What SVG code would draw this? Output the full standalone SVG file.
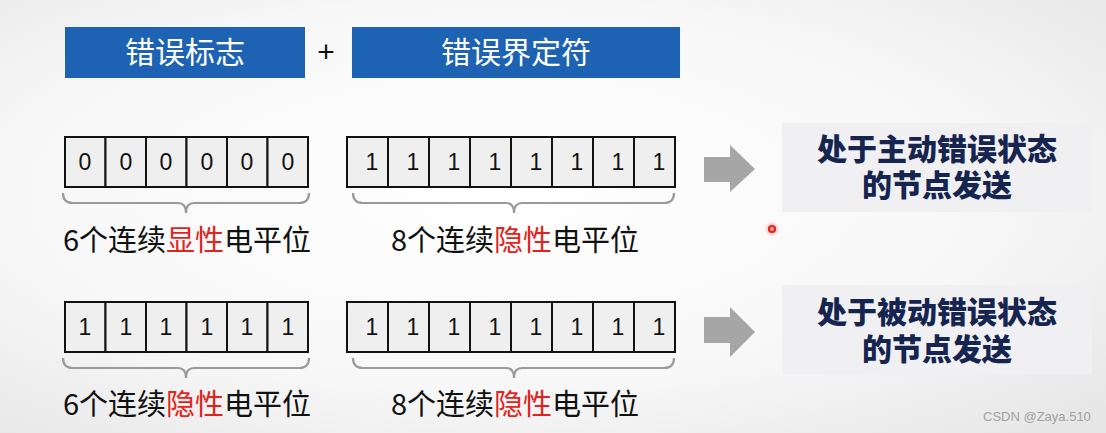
<svg xmlns="http://www.w3.org/2000/svg" width="1106" height="433" viewBox="0 0 1106 433">
<defs>
<radialGradient id="bg" cx="0.45" cy="0.45" r="0.75">
<stop offset="0" stop-color="#ffffff"/>
<stop offset="0.6" stop-color="#f7f7f7"/>
<stop offset="1" stop-color="#e6e6e6"/>
</radialGradient>
<radialGradient id="glow" cx="0.5" cy="0.5" r="0.5">
<stop offset="0" stop-color="#ff8080" stop-opacity="0.8"/>
<stop offset="1" stop-color="#ff8080" stop-opacity="0"/>
</radialGradient>
</defs>
<style>
.hdr{fill:#1e63b3}
.hdrt{font-family:"Noto Sans CJK SC",sans-serif;font-size:30px;fill:#ffffff;text-anchor:middle}
.cell{fill:#efefef;stroke:#111;stroke-width:2}
.dig{font-family:"Liberation Sans",Arial,sans-serif;font-size:23px;fill:#111;text-anchor:middle}
.brace{fill:none;stroke:#9a9a9a;stroke-width:2.2}
.lbl{font-family:"Noto Sans CJK SC",sans-serif;font-size:29px;fill:#111;text-anchor:middle}
.red{fill:#e2231a}
.arrow{fill:#a6a6a6}
.nbox{fill:#f0f0f2}
.ntxt{font-family:"Noto Sans CJK SC",sans-serif;font-size:30px;font-weight:900;fill:#15254f;text-anchor:middle}
.wm{font-family:"Liberation Sans",Arial,sans-serif;font-size:13px;fill:#a0a0a0}
</style>
<rect width="1106" height="433" fill="url(#bg)"/>

<g id="header-flag">
<rect class="hdr" x="65" y="27" width="240" height="51"/>
<text class="hdrt" x="185" y="63">错误标志</text>
</g>
<g id="plus">
<text x="326" y="62" font-family="Liberation Sans, Arial, sans-serif" font-size="30" fill="#111" text-anchor="middle">+</text>
</g>
<g id="header-delim">
<rect class="hdr" x="352" y="27" width="328" height="51"/>
<text class="hdrt" x="516" y="63">错误界定符</text>
</g>

<g id="row1-flag">
<rect class="cell" x="65" y="137" width="40.5" height="50"/>
<rect class="cell" x="105.5" y="137" width="40.5" height="50"/>
<rect class="cell" x="146" y="137" width="40.5" height="50"/>
<rect class="cell" x="186.5" y="137" width="40.5" height="50"/>
<rect class="cell" x="227" y="137" width="40.5" height="50"/>
<rect class="cell" x="267.5" y="137" width="40.5" height="50"/>
<text class="dig" x="85" y="170">0</text>
<text class="dig" x="126" y="170">0</text>
<text class="dig" x="166" y="170">0</text>
<text class="dig" x="207" y="170">0</text>
<text class="dig" x="247" y="170">0</text>
<text class="dig" x="288" y="170">0</text>
<path class="brace" d="M63,193 Q63,203 73,203 H178 Q186,203 186,213 Q186,203 194,203 H299 Q309,203 309,193"/>
<text class="lbl" x="187" y="251">6个连续<tspan class="red">显性</tspan>电平位</text>
</g>

<g id="row1-delim">
<rect class="cell" x="347" y="137" width="41" height="50"/>
<rect class="cell" x="388" y="137" width="41" height="50"/>
<rect class="cell" x="429" y="137" width="41" height="50"/>
<rect class="cell" x="470" y="137" width="41" height="50"/>
<rect class="cell" x="511" y="137" width="41" height="50"/>
<rect class="cell" x="552" y="137" width="41" height="50"/>
<rect class="cell" x="593" y="137" width="41" height="50"/>
<rect class="cell" x="634" y="137" width="41" height="50"/>
<text class="dig" x="372" y="170">1</text>
<text class="dig" x="413" y="170">1</text>
<text class="dig" x="454" y="170">1</text>
<text class="dig" x="495" y="170">1</text>
<text class="dig" x="536" y="170">1</text>
<text class="dig" x="577" y="170">1</text>
<text class="dig" x="618" y="170">1</text>
<text class="dig" x="659" y="170">1</text>
<path class="brace" d="M353,193 Q353,203 363,203 H506 Q514,203 514,213 Q514,203 522,203 H664 Q674,203 674,193"/>
<text class="lbl" x="515" y="251">8个连续<tspan class="red">隐性</tspan>电平位</text>
</g>

<g id="node-active">
<rect class="nbox" x="782" y="123" width="310" height="89"/>
<text class="ntxt" x="937" y="160">处于主动错误状态<tspan x="937" dy="36">的节点发送</tspan></text>
</g>

<g id="row2-flag">
<rect class="cell" x="65" y="302" width="40.5" height="50"/>
<rect class="cell" x="105.5" y="302" width="40.5" height="50"/>
<rect class="cell" x="146" y="302" width="40.5" height="50"/>
<rect class="cell" x="186.5" y="302" width="40.5" height="50"/>
<rect class="cell" x="227" y="302" width="40.5" height="50"/>
<rect class="cell" x="267.5" y="302" width="40.5" height="50"/>
<text class="dig" x="85" y="335">1</text>
<text class="dig" x="126" y="335">1</text>
<text class="dig" x="166" y="335">1</text>
<text class="dig" x="207" y="335">1</text>
<text class="dig" x="247" y="335">1</text>
<text class="dig" x="288" y="335">1</text>
<path class="brace" d="M63,358 Q63,368 73,368 H178 Q186,368 186,378 Q186,368 194,368 H299 Q309,368 309,358"/>
<text class="lbl" x="187" y="415">6个连续<tspan class="red">隐性</tspan>电平位</text>
</g>

<g id="row2-delim">
<rect class="cell" x="347" y="302" width="41" height="50"/>
<rect class="cell" x="388" y="302" width="41" height="50"/>
<rect class="cell" x="429" y="302" width="41" height="50"/>
<rect class="cell" x="470" y="302" width="41" height="50"/>
<rect class="cell" x="511" y="302" width="41" height="50"/>
<rect class="cell" x="552" y="302" width="41" height="50"/>
<rect class="cell" x="593" y="302" width="41" height="50"/>
<rect class="cell" x="634" y="302" width="41" height="50"/>
<text class="dig" x="372" y="335">1</text>
<text class="dig" x="413" y="335">1</text>
<text class="dig" x="454" y="335">1</text>
<text class="dig" x="495" y="335">1</text>
<text class="dig" x="536" y="335">1</text>
<text class="dig" x="577" y="335">1</text>
<text class="dig" x="618" y="335">1</text>
<text class="dig" x="659" y="335">1</text>
<path class="brace" d="M353,358 Q353,368 363,368 H506 Q514,368 514,378 Q514,368 522,368 H664 Q674,368 674,358"/>
<text class="lbl" x="515" y="415">8个连续<tspan class="red">隐性</tspan>电平位</text>
</g>

<g id="node-passive">
<rect class="nbox" x="782" y="285" width="310" height="90"/>
<text class="ntxt" x="937" y="323">处于被动错误状态<tspan x="937" dy="37">的节点发送</tspan></text>
</g>

<g id="connectors">
<polygon class="arrow" points="704,157 730,157 730,145 755,169 730,192 730,182 704,182"/>
<polygon class="arrow" points="704,317 730,317 730,307 755,332 730,357 730,343 704,343"/>
</g>

<g id="pointer">
<circle cx="772" cy="229" r="8" fill="url(#glow)"/>
<circle cx="772" cy="229" r="3" fill="none" stroke="#e2231a" stroke-width="2.2"/>
</g>

<text class="wm" x="983" y="421">CSDN @Zaya.510</text>
</svg>
